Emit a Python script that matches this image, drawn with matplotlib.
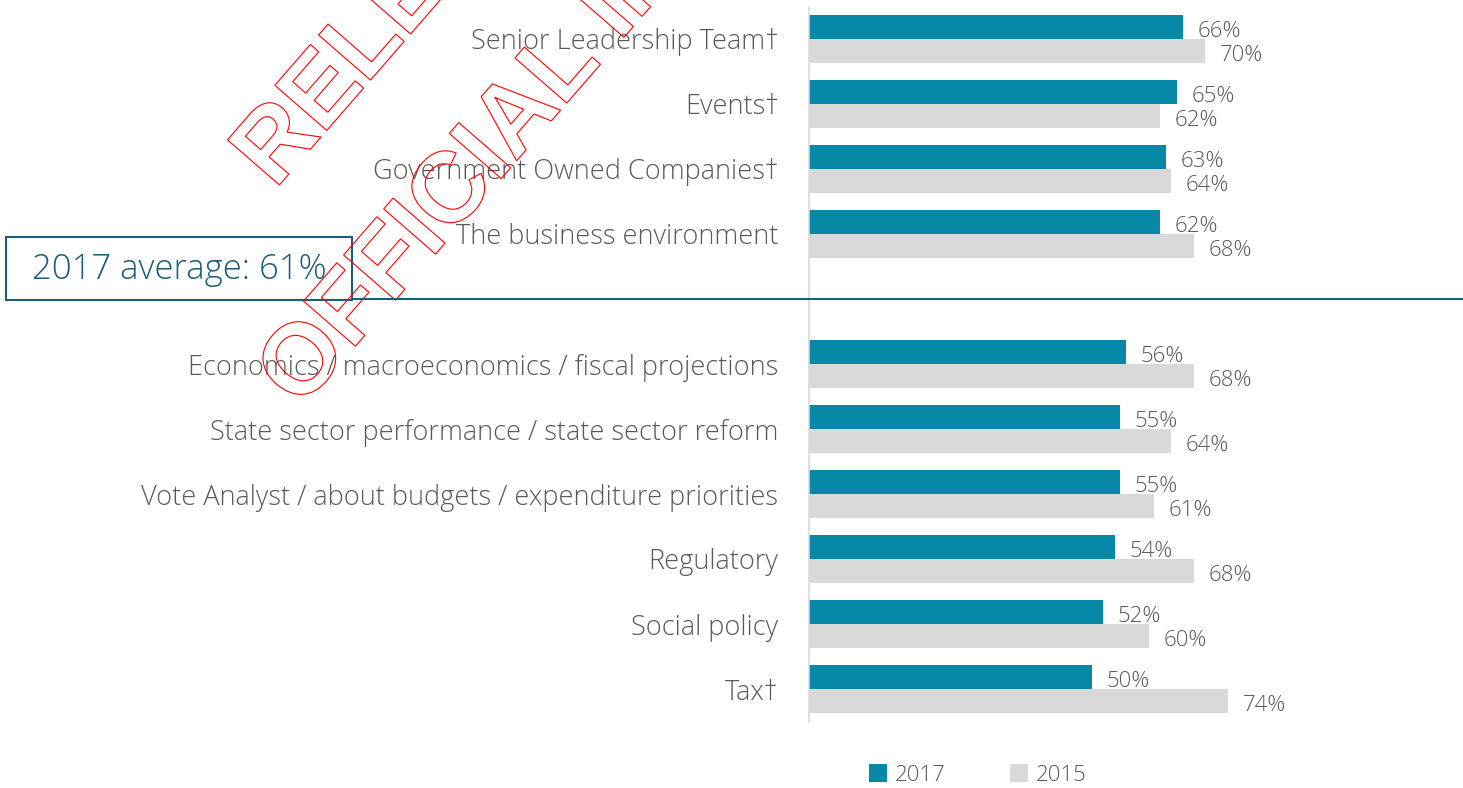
import matplotlib
matplotlib.use("Agg")
import matplotlib.pyplot as plt
import numpy as np
from matplotlib.patches import Rectangle, PathPatch
from matplotlib.textpath import TextPath
from matplotlib.font_manager import FontProperties
from matplotlib.transforms import Affine2D, blended_transform_factory
from matplotlib.lines import Line2D

# ---------------- data ----------------
categories = [
    "Senior Leadership Team\u2020",
    "Events\u2020",
    "Government Owned Companies\u2020",
    "The business environment",
    "Economics / macroeconomics / fiscal projections",
    "State sector performance / state sector reform",
    "Vote Analyst / about budgets / expenditure priorities",
    "Regulatory",
    "Social policy",
    "Tax\u2020",
]
values_2017 = [66, 65, 63, 62, 56, 55, 55, 54, 52, 50]
values_2015 = [70, 62, 64, 68, 68, 64, 61, 68, 60, 74]
series_names = ["2017", "2015"]
avg_2017 = 61
n_above_avg = 4  # categories above the average line
watermark_lines = ["RELEASED UNDER THE", "OFFICIAL INFORMATION ACT"]

# ---------------- style ----------------
TEAL = "#0888A7"
GREY_BAR = "#D9D9D9"
TEXT = "#595959"
DARK_TEAL = "#1B5E78"
FONT = "Open Sans"

W, H = 1463, 788
fig = plt.figure(figsize=(W / 100, H / 100), dpi=100)
fig.patch.set_facecolor("white")

ax = fig.add_axes([809 / W, 1 - 721.5 / H, 654 / W, 715 / H])

# slot positions, leaving one empty slot for the average line
pos = np.array([i if i < n_above_avg else i + 1 for i in range(len(categories))], dtype=float)
h = 24 / 65

b17 = ax.barh(pos - h / 2, values_2017, height=h, color=TEAL, label=series_names[0])
b15 = ax.barh(pos + h / 2, values_2015, height=h, color=GREY_BAR, label=series_names[1])

ax.set_xlim(0, 654 / 5.66)
ax.set_ylim(10.5, -0.5)

for y, vals in ((pos - h / 2, values_2017), (pos + h / 2, values_2015)):
    for yy, v in zip(y, vals):
        ax.annotate(f"{v}%", xy=(v, yy), xytext=(10.5, -3.5), textcoords="offset points",
                    ha="left", va="center", color=TEXT, fontsize=16,
                    family=FONT, fontweight="light")

ax.set_yticks(pos)
ax.set_yticklabels(categories, fontsize=19.5, color=TEXT, family=FONT, fontweight="light")
ax.tick_params(axis="y", length=0, pad=22)
ax.set_xticks([])
for s in ("top", "right", "bottom"):
    ax.spines[s].set_visible(False)
ax.spines["left"].set_color(GREY_BAR)
ax.spines["left"].set_linewidth(1.2)

# average line across the figure at the empty slot
tr = blended_transform_factory(fig.transFigure, ax.transData)
fig.add_artist(Line2D([352 / W, 1.0], [n_above_avg, n_above_avg], transform=tr,
                      color=DARK_TEAL, lw=1.5, clip_on=False))

# average box
fig.add_artist(Rectangle((6 / W, 1 - 300 / H), 346 / W, 63 / H, transform=fig.transFigure,
                         fill=False, edgecolor=DARK_TEAL, lw=1.5))
fig.text(179 / W, 1 - 270 / H, f"2017 average: {avg_2017}%", ha="center", va="center",
         fontsize=25, color=DARK_TEAL, family=FONT, fontweight="light")

# legend
fig.legend(handles=[b17, b15], labels=series_names, loc="center",
           bbox_to_anchor=(978 / W, 1 - 775 / H), ncol=2, frameon=False,
           prop=FontProperties(family=FONT, weight="light", size=16),
           labelcolor=TEXT, handlelength=0.81, handleheight=0.81,
           handletextpad=0.36, columnspacing=2.9, borderpad=0, borderaxespad=0)

# watermark (red outlined text)
wm_prop = FontProperties(family="Liberation Sans", weight="bold")
wm_starts = [(275, 190), (300, 410)]
for line, (px, py) in zip(watermark_lines, wm_starts):
    tp = TextPath((0, 0), line, size=100, prop=wm_prop)
    t = Affine2D().rotate_deg(49).translate(px, H - py)
    fig.add_artist(PathPatch(tp, transform=t, facecolor="none", edgecolor="red", lw=0.8))

fig.savefig("out.png", dpi=100, facecolor="white")
